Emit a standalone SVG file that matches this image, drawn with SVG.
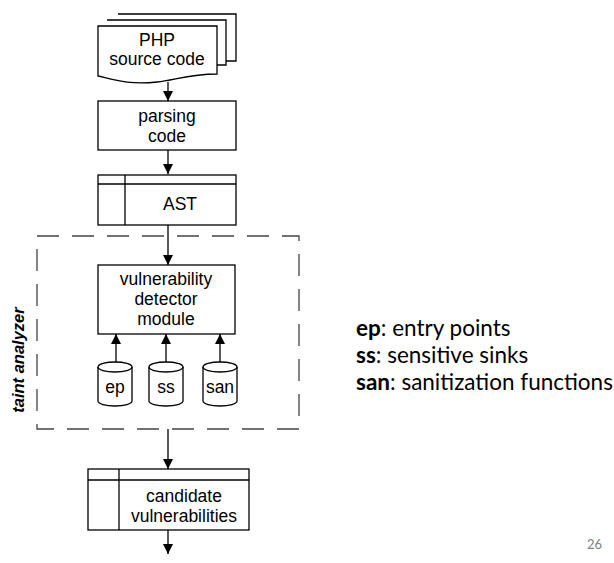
<svg xmlns="http://www.w3.org/2000/svg" width="614" height="563" viewBox="0 0 614 563">
<style>
.s{fill:#fff;stroke:#000;stroke-width:1.3}
.n{fill:none;stroke:#000;stroke-width:1.3}
.t{font-family:"Liberation Sans",Arial,sans-serif;font-size:17.5px;fill:#000;text-anchor:middle}
.c{stroke:#000;stroke-width:1.3;fill:none;marker-end:url(#ah)}
.lg{font-family:Lato,"Open Sans",sans-serif;font-size:22.5px;fill:#000}
</style>
<defs>
<marker id="ah" markerUnits="userSpaceOnUse" markerWidth="11" markerHeight="11" refX="10" refY="5" orient="auto">
<path d="M0,0 L10,5 L0,10 z" fill="#000"/>
</marker>
</defs>
<rect width="614" height="563" fill="#fff"/>
<g id="taint-analyzer">
<rect x="37" y="236" width="262" height="193" fill="none" stroke="#444" stroke-width="1.3" stroke-dasharray="22 13"/>
<text transform="translate(24,360) rotate(-90)" text-anchor="middle" font-family="Liberation Sans,Arial,sans-serif" font-size="16.5" font-weight="bold" font-style="italic">taint analyzer</text>
</g>
<g id="connectors">
<line class="c" x1="168" y1="82" x2="168" y2="101"/>
<line class="c" x1="168" y1="150" x2="168" y2="174"/>
<line class="c" x1="168" y1="225" x2="168" y2="265"/>
<line class="c" x1="116" y1="362" x2="116" y2="334"/>
<line class="c" x1="166" y1="362" x2="166" y2="334"/>
<line class="c" x1="220" y1="362" x2="220" y2="334"/>
<line class="c" x1="168" y1="429" x2="168" y2="469"/>
<line class="c" x1="168" y1="530" x2="168" y2="554"/>
</g>
<g id="php-source">
<rect x="118" y="14" width="118" height="47" fill="#fff" stroke="none"/>
<path class="n" d="M118,14 H236 V61 H226"/>
<rect x="107" y="20" width="119" height="45" fill="#fff" stroke="none"/>
<path class="n" d="M107,20 H226 V65 H217"/>
<path class="s" d="M98,26 H217 V74 C190,74 175,80 157,82 C130,85 115,80 98,76 Z"/>
<text class="t" x="157" y="46">PHP</text>
<text class="t" x="157" y="65">source code</text>
</g>
<g id="parsing">
<rect class="s" x="98" y="101" width="138" height="49"/>
<text class="t" x="167" y="122">parsing</text>
<text class="t" x="167" y="142">code</text>
</g>
<g id="ast">
<rect class="s" x="98" y="175" width="138" height="50"/>
<line class="n" x1="98" y1="184" x2="236" y2="184"/>
<line class="n" x1="125" y1="175" x2="125" y2="225"/>
<text class="t" x="180" y="210">AST</text>
</g>
<g id="detector">
<rect class="s" x="98" y="265" width="137" height="69"/>
<text class="t" x="166" y="285">vulnerability</text>
<text class="t" x="166" y="305">detector</text>
<text class="t" x="166" y="325">module</text>
</g>
<g id="ep">
<path class="s" d="M98,367 A17,5 0 0 1 132,367 V401 A17,5 0 0 1 98,401 Z"/>
<path class="n" d="M98,367 A17,5 0 0 0 132,367"/>
<text class="t" x="115" y="393">ep</text>
</g>
<g id="ss">
<path class="s" d="M149,367 A17,5 0 0 1 183,367 V401 A17,5 0 0 1 149,401 Z"/>
<path class="n" d="M149,367 A17,5 0 0 0 183,367"/>
<text class="t" x="166" y="393">ss</text>
</g>
<g id="san">
<path class="s" d="M203,367 A17,5 0 0 1 237,367 V401 A17,5 0 0 1 203,401 Z"/>
<path class="n" d="M203,367 A17,5 0 0 0 237,367"/>
<text class="t" x="220" y="393">san</text>
</g>
<g id="candidates">
<rect class="s" x="88" y="469" width="161" height="61"/>
<line class="n" x1="88" y1="480" x2="249" y2="480"/>
<line class="n" x1="119" y1="469" x2="119" y2="530"/>
<text class="t" x="184" y="502">candidate</text>
<text class="t" x="184" y="522">vulnerabilities</text>
</g>
<g id="legend">
<text class="lg" x="356" y="336"><tspan font-weight="bold">ep</tspan>: entry points</text>
<text class="lg" x="356" y="363"><tspan font-weight="bold">ss</tspan>: sensitive sinks</text>
<text class="lg" x="356" y="390"><tspan font-weight="bold">san</tspan>: sanitization functions</text>
</g>
<text x="587" y="549" font-family="Lato,'Open Sans',sans-serif" font-size="13" fill="#808080">26</text>
</svg>
